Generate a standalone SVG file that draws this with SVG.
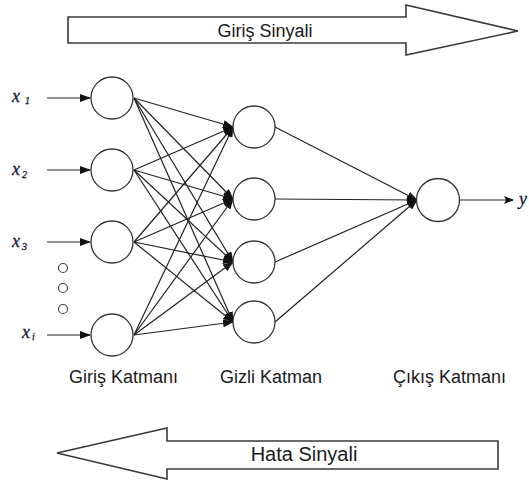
<svg xmlns="http://www.w3.org/2000/svg" width="529" height="483" viewBox="0 0 529 483">
<style>
.node{fill:#fff;stroke:#333;stroke-width:1.3}
.big{fill:#fff;stroke:#3a3a3a;stroke-width:1.6;stroke-linejoin:miter}
.ln{stroke:#222;stroke-width:1.2;fill:none;marker-end:url(#ah)}
.lbl{font-family:"Liberation Sans",Arial,sans-serif;font-size:18px;fill:#1a1a1a}
.var{font-family:"Liberation Serif","Times New Roman",serif;font-style:italic;font-size:18px;fill:#141a3c;stroke:#141a3c;stroke-width:0.3}
.sub{font-size:10px}
.dot{fill:#fff;stroke:#444;stroke-width:1.2}
</style>
<defs>
<marker id="ah" markerUnits="userSpaceOnUse" markerWidth="11" markerHeight="8" refX="10" refY="4" orient="auto">
<path d="M0,0 L11,4 L0,8 z" fill="#111"/>
</marker>
<marker id="ah2" markerUnits="userSpaceOnUse" markerWidth="10" markerHeight="8" refX="9" refY="4" orient="auto">
<path d="M0,0 L10,4 L0,8 L2,4 z" fill="#111"/>
</marker>
</defs>
<rect width="529" height="483" fill="#fff"/>

<g id="signal-in">
<path class="big" d="M68,17 L406,17 L406,5 L518,31 L406,55 L406,43 L68,43 z"/>
<text class="lbl" x="265" y="37" text-anchor="middle">Giriş Sinyali</text>
</g>
<g id="signal-err">
<path class="big" d="M498,441 L167,441 L167,428 L57,453 L167,479 L167,469 L498,469 z"/>
<text class="lbl" x="304" y="461" text-anchor="middle" style="font-size:20px">Hata Sinyali</text>
</g>

<g id="connectors">
<line class="ln" x1="47" y1="98" x2="90" y2="98"/>
<line class="ln" x1="47" y1="170" x2="90" y2="170"/>
<line class="ln" x1="47" y1="242" x2="90" y2="242"/>
<line class="ln" x1="47" y1="335" x2="90" y2="335"/>

<line class="ln" x1="134" y1="98" x2="233" y2="127"/>
<line class="ln" x1="134" y1="98" x2="233" y2="199"/>
<line class="ln" x1="134" y1="98" x2="233" y2="262"/>
<line class="ln" x1="134" y1="98" x2="233" y2="322"/>
<line class="ln" x1="134" y1="170" x2="233" y2="127"/>
<line class="ln" x1="134" y1="170" x2="233" y2="199"/>
<line class="ln" x1="134" y1="170" x2="233" y2="262"/>
<line class="ln" x1="134" y1="170" x2="233" y2="322"/>
<line class="ln" x1="134" y1="242" x2="233" y2="127"/>
<line class="ln" x1="134" y1="242" x2="233" y2="199"/>
<line class="ln" x1="134" y1="242" x2="233" y2="262"/>
<line class="ln" x1="134" y1="242" x2="233" y2="322"/>
<line class="ln" x1="134" y1="335" x2="233" y2="127"/>
<line class="ln" x1="134" y1="335" x2="233" y2="199"/>
<line class="ln" x1="134" y1="335" x2="233" y2="262"/>
<line class="ln" x1="134" y1="335" x2="233" y2="322"/>

<line class="ln" x1="275" y1="127" x2="417" y2="200"/>
<line class="ln" x1="275" y1="199" x2="417" y2="200"/>
<line class="ln" x1="275" y1="262" x2="417" y2="200"/>
<line class="ln" x1="275" y1="322" x2="417" y2="200"/>

<line x1="460" y1="200" x2="513" y2="200" stroke="#222" stroke-width="1.2" marker-end="url(#ah2)"/>
</g>

<g id="in1"><circle class="node" cx="112" cy="98" r="21"/></g>
<g id="in2"><circle class="node" cx="112" cy="170" r="21"/></g>
<g id="in3"><circle class="node" cx="112" cy="242" r="21"/></g>
<g id="in4"><circle class="node" cx="112" cy="335" r="21"/></g>

<g id="dots">
<circle class="dot" cx="63" cy="268" r="4.5"/>
<circle class="dot" cx="63" cy="288" r="4.5"/>
<circle class="dot" cx="63" cy="309" r="4.5"/>
</g>

<g id="h1"><circle class="node" cx="254" cy="127" r="21"/></g>
<g id="h2"><circle class="node" cx="254" cy="199" r="21"/></g>
<g id="h3"><circle class="node" cx="254" cy="262" r="21"/></g>
<g id="h4"><circle class="node" cx="254" cy="322" r="21"/></g>

<g id="out"><circle class="node" cx="438" cy="200" r="21.5"/></g>

<g id="var-labels">
<text class="var" x="12" y="102">x<tspan class="sub" dx="5" dy="2">1</tspan></text>
<text class="var" x="12" y="175">x<tspan class="sub" dx="2" dy="3">2</tspan></text>
<text class="var" x="12" y="247">x<tspan class="sub" dx="2" dy="3">3</tspan></text>
<text class="var" x="22" y="338">x<tspan class="sub" dx="2" dy="2">i</tspan></text>
<text class="var" x="519" y="205">y</text>
</g>

<g id="layer-labels">
<text class="lbl" x="69" y="383">Giriş Katmanı</text>
<text class="lbl" x="220" y="383">Gizli Katman</text>
<text class="lbl" x="393" y="383">Çıkış Katmanı</text>
</g>
</svg>
